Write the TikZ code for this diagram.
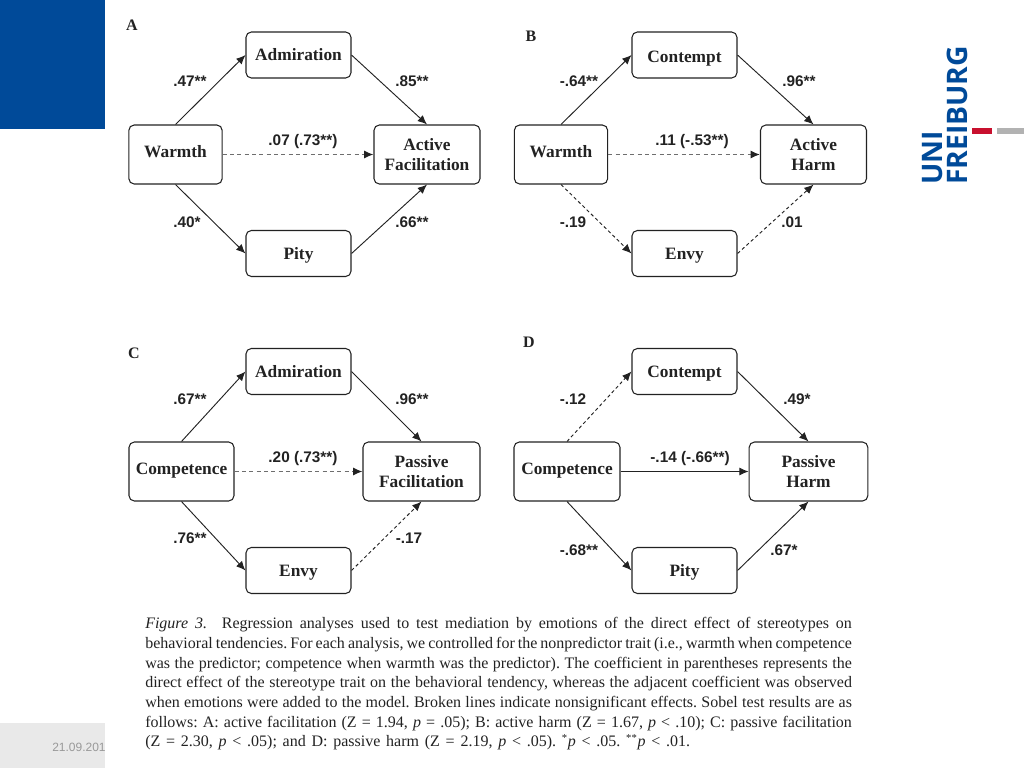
\documentclass[tikz,border=0pt]{standalone}
\usepackage{fontspec}
\setmainfont{Liberation Serif}
\setsansfont{Liberation Sans}
\newfontfamily\logofont{Open Sans}
\usepackage{xcolor}
\usetikzlibrary{
  arrows.meta
}
\definecolor{SlideBlue}{HTML}{004A99}
\definecolor{SlideRed}{HTML}{C8102E}
\definecolor{SlideGray}{HTML}{B2B2B2}
\definecolor{FootGray}{HTML}{E9E9E9}
\definecolor{DateGray}{HTML}{999999}
\definecolor{InkGray}{HTML}{222222}
\definecolor{DashGray}{HTML}{6E6E6E}
\tikzset{
  box/.style={
    draw=InkGray,
    rounded corners=4pt,
    line width=0.8pt,
    align=center,
    text=InkGray,
    inner sep=0pt,
    font=\bfseries\fontsize{13}{15.4}\selectfont
  },
  mediator/.style={
    box,
    text height=12.3pt,
    text depth=4pt,
    minimum width=78.75pt,
    minimum height=34.5pt
  },
  predictor/.style={
    box,
    text height=8pt,
    text depth=4pt,
    minimum width=70pt,
    minimum height=44.25pt
  },
  outcome/.style={
    box,
    minimum width=79.5pt,
    minimum height=44.25pt
  },
  coefficient/.style={
    inner sep=0pt,
    text=InkGray,
    font=\sffamily\bfseries\fontsize{11.5}{13}\selectfont
  },
  panel/.style={
    inner sep=0pt,
    text=InkGray,
    font=\bfseries\fontsize{12}{14}\selectfont
  },
  logotext/.style={
    rotate=90,
    anchor=base west,
    inner sep=0pt,
    text=SlideBlue,
    font=\logofont\bfseries\fontsize{21.2}{23}\selectfont
  },
  connection/.style={
    -{Latex[length=7pt,width=6pt,color=InkGray]},
    line width=0.7pt,
    draw=InkGray
  },
  nonsignificant/.style={
    connection,
    dash pattern=on 2.5pt off 2pt
  },
  nonsignificantdirect/.style={
    connection,
    draw=DashGray,
    line width=1pt,
    dash pattern=on 3pt off 2.5pt
  }
}

\begin{document}
\begin{tikzpicture}[x=0.75pt,y=-0.75pt]

  \useasboundingbox (0,0) rectangle (1024,768);

  % slide furniture
  \fill[SlideBlue] (0,0) rectangle (105,129);
  \fill[FootGray] (0,723) rectangle (105,768);
  \node[
    anchor=west,
    inner sep=0pt,
    text=DateGray,
    font=\sffamily\fontsize{9}{11}\selectfont
  ] (date) at (52,747) {
    21.09.2018
  };
  \fill[white] (105,723) rectangle (135,768);

  \node[logotext] (uni) at (942,185) {
    UNI
  };
  \node[logotext] (freiburg) at (967,185) {
    FREIBURG
  };
  \fill[SlideRed] (972,128) rectangle (992,134);
  \fill[SlideGray] (997,128) rectangle (1024,134);

  % panel A
  \node[panel] (letterA) at (132,25) {
    A
  };
  \node[predictor] (warmthA) at (175.5,154.5) {Warmth};
  \node[mediator] (admirationA) at (298.5,55) {Admiration};
  \node[mediator] (pityA) at (298.5,253.5) {Pity};
  \node[outcome] (facilitationA) at (427,154.5) {
    Active\\
    Facilitation
  };
  \draw[connection]
  (warmthA.north) --
  (admirationA.west);
  \draw[connection]
  (admirationA.east) --
  (facilitationA.north);
  \draw[connection]
  (warmthA.south) --
  (pityA.west);
  \draw[connection]
  (pityA.east) --
  (facilitationA.south);
  \draw[nonsignificantdirect]
  (warmthA) --
  (facilitationA);
  \node[coefficient] (warmthAdmirationA) at (190,81) {
    .47**
  };
  \node[coefficient] (admirationActiveA) at (412,81) {
    .85**
  };
  \node[coefficient] (warmthActiveA) at (303,141.5) {
    .07 (.73**)
  };
  \node[coefficient] (warmthPityA) at (187,222) {
    .40*
  };
  \node[coefficient] (pityActiveA) at (412,222) {
    .66**
  };

  % panel B
  \node[panel] (letterB) at (531,36) {
    B
  };
  \node[predictor] (warmthB) at (561,154.5) {Warmth};
  \node[
    mediator,
    text height=15pt,
    text depth=3.4pt
  ] (contemptB) at (684.5,55) {Contempt};
  \node[mediator] (envyB) at (684.5,253.5) {Envy};
  \node[outcome] (harmB) at (813.5,154.5) {
    Active\\
    Harm
  };
  \draw[connection]
  (warmthB.north) --
  (contemptB.west);
  \draw[connection]
  (contemptB.east) --
  (harmB.north);
  \draw[nonsignificant]
  (warmthB.south) --
  (envyB.west);
  \draw[nonsignificant]
  (envyB.east) --
  (harmB.south);
  \draw[nonsignificantdirect]
  (warmthB) --
  (harmB);
  \node[coefficient] (warmthContemptB) at (579,81) {
    -.64**
  };
  \node[coefficient] (contemptHarmB) at (799,81) {
    .96**
  };
  \node[coefficient] (warmthHarmB) at (692,141.5) {
    .11 (-.53**)
  };
  \node[coefficient] (warmthEnvyB) at (573,222) {
    -.19
  };
  \node[coefficient] (envyHarmB) at (792,222) {
    .01
  };

  % panel C
  \node[panel] (letterC) at (134,353) {
    C
  };
  \node[
    predictor,
    minimum width=78.75pt
  ] (competenceC) at (181.5,471.5) {Competence};
  \node[mediator] (admirationC) at (298.5,371.5) {Admiration};
  \node[mediator] (envyC) at (298.5,570.5) {Envy};
  \node[
    outcome,
    minimum width=87.75pt
  ] (facilitationC) at (421.5,471.5) {
    Passive\\
    Facilitation
  };
  \draw[connection]
  (competenceC.north) --
  (admirationC.west);
  \draw[connection]
  (admirationC.east) --
  (facilitationC.north);
  \draw[connection]
  (competenceC.south) --
  (envyC.west);
  \draw[nonsignificant]
  (envyC.east) --
  (facilitationC.south);
  \draw[nonsignificantdirect]
  (competenceC) --
  (facilitationC);
  \node[coefficient] (competenceAdmirationC) at (190,399) {
    .67**
  };
  \node[coefficient] (admirationPassiveC) at (412,399) {
    .96**
  };
  \node[coefficient] (competencePassiveC) at (303,458.5) {
    .20 (.73**)
  };
  \node[coefficient] (competenceEnvyC) at (190,538) {
    .76**
  };
  \node[coefficient] (envyPassiveC) at (409,538) {
    -.17
  };

  % panel D
  \node[panel] (letterD) at (529,342) {
    D
  };
  \node[
    predictor,
    minimum width=79.5pt
  ] (competenceD) at (567,471.5) {Competence};
  \node[mediator] (contemptD) at (684.5,371.5) {Contempt};
  \node[mediator] (pityD) at (684.5,570.5) {Pity};
  \node[
    outcome,
    minimum width=89pt
  ] (harmD) at (808.5,471.5) {
    Passive\\
    Harm
  };
  \draw[nonsignificant]
  (competenceD.north) --
  (contemptD.west);
  \draw[connection]
  (contemptD.east) --
  (harmD.north);
  \draw[connection]
  (competenceD.south) --
  (pityD.west);
  \draw[connection]
  (pityD.east) --
  (harmD.south);
  \draw[connection]
  (competenceD) --
  (harmD);
  \node[coefficient] (competenceContemptD) at (573,399) {
    -.12
  };
  \node[coefficient] (contemptHarmD) at (797,399) {
    .49*
  };
  \node[coefficient] (competenceHarmD) at (690,458.5) {
    -.14 (-.66**)
  };
  \node[coefficient] (competencePityD) at (579,550) {
    -.68**
  };
  \node[coefficient] (pityHarmD) at (784,550) {
    .67*
  };

  % caption
  \node[
    anchor=north west,
    inner sep=0pt,
    text width=530pt,
    align=justify,
    text=InkGray,
    font=\frenchspacing\fontsize{12}{14.8}\selectfont
  ] (caption) at (145,617) {
    \textit{Figure 3.}\hspace{6pt} Regression analyses used to test mediation by emotions of the direct effect of stereotypes on\linebreak
    behavioral tendencies. For each analysis, we controlled for the nonpredictor trait (i.e., warmth when competence\linebreak
    was the predictor; competence when warmth was the predictor). The coefficient in parentheses represents the\linebreak
    direct effect of the stereotype trait on the behavioral tendency, whereas the adjacent coefficient was observed\linebreak
    when emotions were added to the model. Broken lines indicate nonsignificant effects. Sobel test results are as\linebreak
    follows: A: active facilitation (Z = 1.94, \textit{p} = .05); B: active harm (Z = 1.67, \textit{p} < .10); C: passive facilitation\linebreak
    \spaceskip=.36em (Z = 2.30, \textit{p} < .05); and D: passive harm (Z = 2.19, \textit{p} < .05). \textsuperscript{*}\textit{p} < .05. \textsuperscript{**}\textit{p} < .01.
  };

\end{tikzpicture}
\end{document}
